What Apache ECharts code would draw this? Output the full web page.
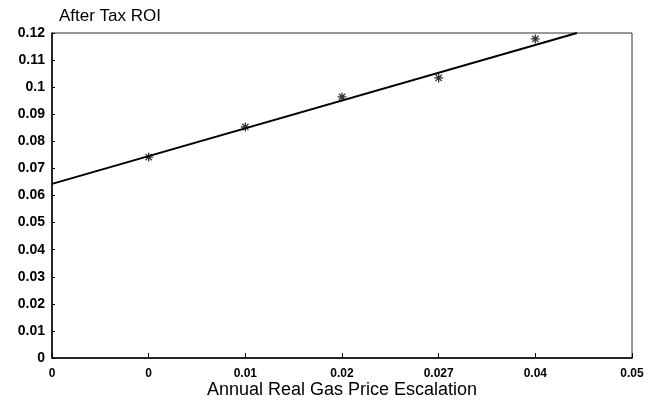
<!DOCTYPE html>
<html><head><meta charset="utf-8">
<script src="https://cdn.jsdelivr.net/npm/echarts@6/dist/echarts.min.js"></script>
<style>html,body{margin:0;padding:0;background:#fff}#c{width:659px;height:410px}</style>
</head><body><div id="c"></div>
<script>
// data
const xTickLabels = ['0', '0', '0.01', '0.02', '0.027', '0.04', '0.05'];
const pointX = [0, 0.01, 0.02, 0.03, 0.04];
const pointY = [0.0742, 0.0853, 0.0964, 0.1034, 0.1178];
const lineX = [-0.01, 0.0443];
const lineY = [0.0643, 0.12];

const asterisk = 'path://M0,5L10,5M5,0L5,10M1.5,1.5L8.5,8.5M8.5,1.5L1.5,8.5';
const chart = echarts.init(document.getElementById('c'));
const font = 'Arial, "Liberation Sans", sans-serif';
chart.setOption({
  animation: false,
  backgroundColor: '#fff',
  title: { text: 'After Tax ROI', left: 54, top: 3,
    textStyle: { fontFamily: font, fontSize: 17, fontWeight: 'normal', color: '#000' } },
  grid: { left: 52, right: 27, top: 33, bottom: 52, show: true, borderColor: '#333', borderWidth: 1 },
  xAxis: {
    type: 'value', min: -0.01, max: 0.05, interval: 0.01,
    name: 'Annual Real Gas Price Escalation', nameLocation: 'middle', nameGap: 23,
    nameMoveOverlap: false,
    nameTextStyle: { fontFamily: font, fontSize: 18, color: '#000' },
    axisLine: { onZero: false, lineStyle: { color: '#000', width: 1.5 } },
    axisTick: { inside: true, length: 5, lineStyle: { color: '#000' } },
    splitLine: { show: false },
    axisLabel: { fontFamily: font, fontSize: 12, fontWeight: 'bold', color: '#000', margin: 10,
      formatter: (v) => xTickLabels[Math.round((v + 0.01) / 0.01)] }
  },
  yAxis: {
    type: 'value', min: 0, max: 0.12, interval: 0.01,
    axisLine: { show: true, onZero: false, lineStyle: { color: '#000', width: 1.5 } },
    axisTick: { show: true, inside: true, length: 3, lineStyle: { color: '#000' } },
    splitLine: { show: false },
    axisLabel: { fontFamily: font, fontSize: 14, fontWeight: 'bold', color: '#000', margin: 7,
      formatter: (v) => String(+v.toFixed(2)) }
  },
  series: [
    { type: 'line', data: lineX.map((x, i) => [x, lineY[i]]), symbol: 'none',
      lineStyle: { color: '#000', width: 2 }, clip: true },
    { type: 'scatter', data: pointX.map((x, i) => [x, pointY[i]]), symbol: asterisk, symbolSize: 9,
      itemStyle: { color: 'none', borderColor: '#000', borderWidth: 1.3 } }
  ]
});
</script></body></html>
